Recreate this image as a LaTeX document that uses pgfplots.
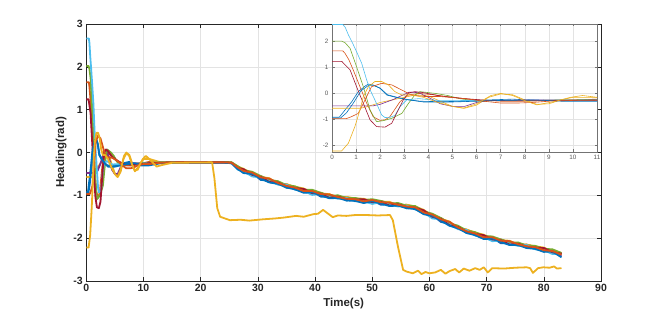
\documentclass[border=0pt]{standalone}
\usepackage{fontspec}
\setmainfont{Liberation Sans}
\usepackage{pgfplots}
\usepackage{pgfplotstable}
\pgfplotsset{compat=1.18}
\definecolor{mblue}{RGB}{0,114,189}
\definecolor{morange}{RGB}{217,83,25}
\definecolor{myellow}{RGB}{237,177,32}
\definecolor{mpurple}{RGB}{126,47,142}
\definecolor{mgreen}{RGB}{119,172,48}
\definecolor{mlblue}{RGB}{77,190,238}
\definecolor{mdred}{RGB}{162,20,47}
\definecolor{axgray}{RGB}{38,38,38}

\pgfplotstableread{
t y
0 -0.92
0.3 -0.92
0.54 -0.64
0.82 -0.32
1.09 0.07
1.37 0.28
1.5 0.36
1.7 0.33
2.0 0.20
2.27 -0.06
2.82 -0.19
3.2 -0.25
3.65 -0.30
4.5 -0.32
5.5 -0.30
6.5 -0.25
7.5 -0.22
8.5 -0.27
9.5 -0.28
11 -0.27
}\eA
\pgfplotstableread{
t y
0 1.64
0.45 1.64
0.54 1.55
0.7 1.30
0.88 0.91
1.16 0.26
1.44 -0.38
1.71 -0.90
1.99 -1.04
2.2 -1.02
2.4 -0.90
2.82 -0.32
3.17 -0.06
3.6 0.0
4.2 -0.05
5.0 -0.15
6.0 -0.25
7.0 -0.30
8.0 -0.30
9.0 -0.28
10.0 -0.25
11 -0.22
}\eB
\pgfplotstableread{
t y
0 -0.57
1.2 -0.57
1.5 -0.50
2.0 -0.35
2.5 -0.25
3.0 -0.15
3.5 -0.05
4.0 -0.10
4.5 -0.30
5.0 -0.50
5.5 -0.57
6.0 -0.45
6.5 -0.15
7.0 -0.02
7.5 -0.05
8.0 -0.25
8.5 -0.42
9.0 -0.40
9.5 -0.25
10.0 -0.15
11 -0.15
}\eC
\pgfplotstableread{
t y
0 -0.48
1.7 -0.48
2.0 -0.42
2.5 -0.25
2.9 -0.08
3.2 0.05
3.6 0.03
4.0 -0.15
4.5 -0.40
5.0 -0.50
5.5 -0.50
6.0 -0.35
6.5 -0.28
8.0 -0.25
9.5 -0.25
11 -0.27
}\eD
\pgfplotstableread{
t y
0 2.02
0.4 2.02
0.55 1.95
0.75 1.74
1.02 1.03
1.3 0.26
1.58 -0.64
1.85 -1.09
2.13 -1.05
2.48 -0.96
2.9 -0.77
3.17 -0.39
3.44 -0.06
3.65 0.07
4.3 0.0
4.8 -0.08
5.3 -0.20
6.0 -0.30
7.0 -0.27
8.0 -0.28
9.5 -0.25
11 -0.24
}\eE
\pgfplotstableread{
t y
0 2.66
0.45 2.66
0.55 2.55
0.68 2.26
0.85 1.95
1.02 1.61
1.23 1.17
1.44 0.52
1.6 0.10
1.78 -0.25
1.95 -0.60
2.06 -0.83
2.2 -0.93
2.41 -0.92
2.61 -0.85
2.82 -0.51
3.1 -0.25
3.6 -0.20
4.5 -0.28
6.0 -0.27
8.0 -0.27
11 -0.25
}\eF
\pgfplotstableread{
t y
0 1.24
0.4 1.24
0.55 1.10
0.75 0.91
1.02 0.26
1.3 -0.38
1.58 -1.02
1.85 -1.28
2.2 -1.30
2.48 -1.15
2.68 -0.77
2.96 -0.25
3.17 0.02
3.44 0.07
3.8 0.03
4.5 -0.10
5.5 -0.20
6.5 -0.27
8.0 -0.28
9.5 -0.27
11 -0.25
}\eG
\pgfplotstableread{
t y
0 -0.95
0.35 -0.95
0.6 -0.75
0.9 -0.35
1.2 0.10
1.5 0.30
1.75 0.30
2.0 0.20
2.3 -0.05
2.7 -0.15
3.2 -0.25
3.8 -0.33
5.0 -0.33
6.0 -0.30
7.0 -0.27
8.5 -0.25
9.5 -0.30
11 -0.30
}\eH
\pgfplotstableread{
t y
0 -0.97
0.6 -0.97
0.8 -0.90
1.09 -0.77
1.37 -0.25
1.64 0.26
2.06 0.39
2.48 0.33
2.9 0.13
3.3 -0.06
3.86 -0.12
4.5 -0.12
5.5 -0.20
6.3 -0.30
7.0 -0.37
7.7 -0.37
8.3 -0.35
9.0 -0.30
10.0 -0.27
11 -0.27
}\eI
\pgfplotstableread{
t y
0 -2.22
0.4 -2.22
0.68 -1.92
0.95 -1.28
1.16 -0.64
1.3 -0.12
1.51 0.26
1.78 0.46
2.06 0.46
2.34 0.33
2.61 0.07
2.9 -0.06
3.3 -0.06
3.8 -0.15
4.4 -0.35
5.0 -0.50
5.45 -0.57
6.0 -0.40
6.6 -0.08
7.0 0.0
7.5 -0.08
8.0 -0.28
8.5 -0.44
9.2 -0.32
9.9 -0.15
10.4 -0.08
11 -0.15
12.3 -0.33
13 -0.30
15 -0.24
22.0 -0.23
22.4 -0.60
22.9 -1.30
23.4 -1.50
25.1 -1.58
27 -1.57
28.5 -1.59
30.9 -1.56
33 -1.54
34.5 -1.52
36.7 -1.48
38 -1.50
39.7 -1.44
40.5 -1.43
41.4 -1.34
42.2 -1.42
43.1 -1.51
44 -1.47
45.5 -1.48
47 -1.46
49 -1.46
51 -1.47
53.1 -1.46
53.6 -1.58
54.5 -2.20
55.4 -2.74
56 -2.78
57.1 -2.82
58 -2.76
58.6 -2.84
59.3 -2.79
60 -2.82
61 -2.80
62 -2.74
62.8 -2.83
63.5 -2.77
64.5 -2.72
65.2 -2.80
66 -2.71
67 -2.76
68 -2.70
68.8 -2.74
69.5 -2.68
70.2 -2.80
71 -2.70
73 -2.71
75 -2.69
77 -2.68
77.6 -2.70
78.1 -2.81
79 -2.70
79.9 -2.68
81 -2.69
81.8 -2.66
82.3 -2.71
83 -2.70
}\eJ
\pgfplotstableread{
t a b c d e f g h i
11 -0.27 -0.22 -0.15 -0.27 -0.24 -0.25 -0.25 -0.30 -0.27
13 -0.24 -0.24 -0.23 -0.24 -0.23 -0.24 -0.24 -0.25 -0.24
16 -0.23 -0.23 -0.22 -0.23 -0.23 -0.24 -0.23 -0.24 -0.23
20 -0.23 -0.23 -0.23 -0.23 -0.22 -0.23 -0.23 -0.24 -0.23
24 -0.23 -0.23 -0.22 -0.23 -0.22 -0.24 -0.23 -0.24 -0.23
25.4 -0.24 -0.24 -0.23 -0.24 -0.23 -0.25 -0.24 -0.25 -0.24
26.5 -0.36 -0.35 -0.33 -0.39 -0.32 -0.40 -0.36 -0.39 -0.35
27.5 -0.47 -0.42 -0.38 -0.42 -0.41 -0.44 -0.39 -0.48 -0.43
29 -0.48 -0.53 -0.50 -0.47 -0.45 -0.56 -0.52 -0.50 -0.47
30.5 -0.64 -0.55 -0.57 -0.62 -0.55 -0.58 -0.57 -0.61 -0.58
32 -0.66 -0.64 -0.60 -0.62 -0.64 -0.67 -0.69 -0.70 -0.61
33.5 -0.68 -0.73 -0.73 -0.74 -0.67 -0.75 -0.70 -0.73 -0.71
35 -0.82 -0.74 -0.74 -0.77 -0.76 -0.75 -0.79 -0.82 -0.78
36.5 -0.83 -0.82 -0.80 -0.86 -0.79 -0.87 -0.83 -0.86 -0.82
38 -0.93 -0.88 -0.84 -0.88 -0.87 -0.90 -0.85 -0.94 -0.90
39.5 -0.91 -0.96 -0.93 -0.90 -0.87 -0.99 -0.95 -0.93 -0.90
41 -1.03 -0.94 -0.96 -1.01 -0.94 -0.97 -0.96 -1.00 -0.97
42.5 -1.03 -1.01 -0.97 -0.99 -1.01 -1.04 -1.06 -1.07 -0.98
44 -1.01 -1.06 -1.06 -1.07 -1.00 -1.08 -1.03 -1.06 -1.04
45.5 -1.12 -1.04 -1.04 -1.07 -1.06 -1.06 -1.09 -1.12 -1.08
47 -1.10 -1.09 -1.07 -1.13 -1.06 -1.14 -1.10 -1.13 -1.09
48.5 -1.17 -1.12 -1.08 -1.12 -1.11 -1.14 -1.09 -1.18 -1.14
50 -1.12 -1.17 -1.14 -1.11 -1.09 -1.20 -1.16 -1.14 -1.11
51.5 -1.22 -1.13 -1.15 -1.20 -1.13 -1.16 -1.15 -1.19 -1.16
53 -1.21 -1.19 -1.15 -1.18 -1.19 -1.22 -1.24 -1.25 -1.17
54.5 -1.19 -1.24 -1.24 -1.25 -1.18 -1.26 -1.21 -1.24 -1.22
56 -1.30 -1.22 -1.22 -1.25 -1.24 -1.24 -1.27 -1.30 -1.26
57.5 -1.29 -1.28 -1.26 -1.32 -1.25 -1.33 -1.29 -1.32 -1.28
59 -1.43 -1.38 -1.34 -1.38 -1.37 -1.40 -1.35 -1.44 -1.40
60.5 -1.46 -1.51 -1.48 -1.45 -1.43 -1.54 -1.50 -1.48 -1.45
62 -1.62 -1.53 -1.55 -1.60 -1.53 -1.56 -1.55 -1.59 -1.56
63.5 -1.67 -1.65 -1.61 -1.63 -1.65 -1.68 -1.70 -1.71 -1.62
65 -1.72 -1.77 -1.77 -1.78 -1.71 -1.79 -1.74 -1.77 -1.75
66.5 -1.88 -1.80 -1.80 -1.83 -1.82 -1.81 -1.85 -1.88 -1.84
68 -1.90 -1.89 -1.87 -1.93 -1.86 -1.94 -1.90 -1.93 -1.89
69.5 -2.01 -1.96 -1.92 -1.96 -1.95 -1.98 -1.93 -2.02 -1.98
71 -1.99 -2.04 -2.01 -1.98 -1.96 -2.07 -2.03 -2.01 -1.98
72.5 -2.12 -2.03 -2.05 -2.10 -2.03 -2.06 -2.05 -2.09 -2.06
74 -2.12 -2.10 -2.06 -2.08 -2.10 -2.13 -2.15 -2.16 -2.07
75.5 -2.11 -2.16 -2.16 -2.17 -2.10 -2.18 -2.13 -2.16 -2.14
77 -2.23 -2.15 -2.15 -2.18 -2.17 -2.16 -2.20 -2.23 -2.19
78.5 -2.22 -2.21 -2.19 -2.25 -2.18 -2.26 -2.22 -2.25 -2.21
80 -2.31 -2.26 -2.22 -2.26 -2.25 -2.28 -2.23 -2.32 -2.28
81.5 -2.29 -2.34 -2.31 -2.28 -2.26 -2.37 -2.33 -2.31 -2.30
83 -2.43 -2.34 -2.36 -2.41 -2.34 -2.37 -2.36 -2.44 -2.38
}\tail

\begin{document}
\begin{tikzpicture}
\useasboundingbox (0,0) rectangle (664pt,316pt);
\begin{axis}[
  at={(86.3pt,35pt)}, anchor=south west,
  scale only axis, width=514.7pt, height=257pt,
  xmin=0, xmax=90, ymin=-3, ymax=3,
  xtick={0,10,...,90}, ytick={-3,-2,...,3},
  grid=major, major grid style={gray!22, line width=0.4pt},
  axis line style={axgray, line width=0.5pt},
  tick style={axgray, line width=0.5pt},
  tick align=inside, major tick length=4pt,
  /pgf/number format/assume math mode=true,
  tick label style={font=\bfseries\fontsize{10.5}{12}\selectfont, text=axgray},
  xlabel={Time(s)}, ylabel={Heading(rad)},
  label style={font=\bfseries\fontsize{11.5}{13}\selectfont, text=axgray},
  xlabel style={yshift=1pt},
  every axis plot/.append style={line width=1.8pt, line join=round, line cap=round},
]
\addplot[mblue] table[x=t,y=y]{\eA};
\addplot[mblue] table[x=t,y=a]{\tail};
\addplot[morange] table[x=t,y=y]{\eB};
\addplot[morange] table[x=t,y=b]{\tail};
\addplot[myellow] table[x=t,y=y]{\eC};
\addplot[myellow] table[x=t,y=c]{\tail};
\addplot[mpurple] table[x=t,y=y]{\eD};
\addplot[mpurple] table[x=t,y=d]{\tail};
\addplot[mgreen] table[x=t,y=y]{\eE};
\addplot[mgreen] table[x=t,y=e]{\tail};
\addplot[mlblue] table[x=t,y=y]{\eF};
\addplot[mlblue] table[x=t,y=f]{\tail};
\addplot[mdred] table[x=t,y=y]{\eG};
\addplot[mdred] table[x=t,y=g]{\tail};
\addplot[mblue] table[x=t,y=y]{\eH};
\addplot[mblue] table[x=t,y=h]{\tail};
\addplot[morange] table[x=t,y=y]{\eI};
\addplot[morange] table[x=t,y=i]{\tail};
\addplot[myellow] table[x=t,y=y]{\eJ};
\end{axis}
\begin{axis}[
  at={(332pt,164pt)}, anchor=south west,
  scale only axis, width=265pt, height=128pt,
  xmin=0, xmax=11, ymin=-2.26, ymax=2.68,
  xtick={0,1,...,11}, ytick={-2,-1,...,2},
  axis background/.style={fill=white},
  grid=major, major grid style={gray!22, line width=0.4pt},
  axis line style={black!55, line width=0.5pt},
  tick style={black!55, line width=0.4pt},
  tick align=inside, major tick length=2.5pt,
  /pgf/number format/assume math mode=true,
  tick label style={font=\fontsize{6.3}{7}\selectfont, text=black!65},
  every axis plot/.append style={line width=0.6pt, line join=round},
]
\addplot[mblue] table[x=t,y=y]{\eA};
\addplot[morange] table[x=t,y=y]{\eB};
\addplot[myellow] table[x=t,y=y]{\eC};
\addplot[mpurple] table[x=t,y=y]{\eD};
\addplot[mgreen] table[x=t,y=y]{\eE};
\addplot[mlblue] table[x=t,y=y]{\eF};
\addplot[mdred] table[x=t,y=y]{\eG};
\addplot[mblue] table[x=t,y=y]{\eH};
\addplot[morange] table[x=t,y=y]{\eI};
\addplot[myellow] table[x=t,y=y]{\eJ};
\end{axis}
\end{tikzpicture}
\end{document}
